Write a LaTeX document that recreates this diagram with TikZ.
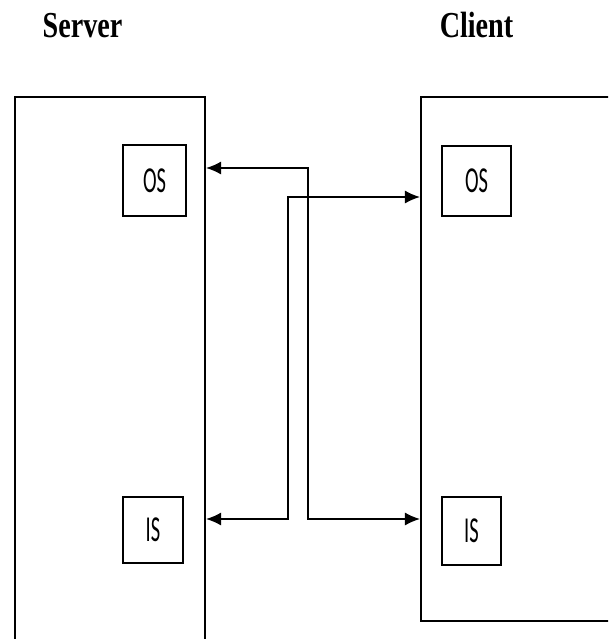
\documentclass[tikz,border=0pt]{standalone}
\usepackage{fontspec}
\usepackage{tikz}
\usetikzlibrary{arrows.meta,positioning}
\newfontfamily\titlefont{Liberation Serif}
\newfontfamily\boxfont{Carlito}
\newcommand{\squeezetxt}[2]{\scalebox{#1}[1]{#2}}

\begin{document}
\begin{tikzpicture}[x=0.025cm,y=-0.025cm,
  title/.style={anchor=base,font=\titlefont\bfseries\fontsize{26}{30}\selectfont},
  frame/.style={draw,line width=1.3pt,inner sep=0pt},
  unit/.style={draw,line width=1.3pt,inner sep=0pt,font=\boxfont\fontsize{26}{30}\selectfont},
  link/.style={line width=1.3pt,{Latex[length=3.8mm,width=3.3mm]}-{Latex[length=3.8mm,width=3.3mm]}}]
\clip (0,0) rectangle (608,639);
% titles
\node[title] (stitle) at (82.5,37) {\squeezetxt{.77}{Server}};
\node[title] (ctitle) at (476.5,37) {\squeezetxt{.77}{Client}};
% machines
\node[frame,minimum width=4.75cm,minimum height=14.05cm] (srv) at (110,378) {};
\node[frame,minimum width=4.975cm,minimum height=13.1cm] (cli) at (520.5,359) {};
\node[unit,minimum width=1.575cm,minimum height=1.775cm] (sos) at (154.5,180.5) {\squeezetxt{.56}{OS}};
\node[unit,minimum width=1.5cm,minimum height=1.65cm] (sis) at (153,530) {\squeezetxt{.56}{IS}};
\node[unit,minimum width=1.725cm,minimum height=1.75cm] (cos) at (476.5,181) {\squeezetxt{.56}{OS}};
\node[unit,minimum width=1.475cm,minimum height=1.7cm] (cis) at (471.5,531) {\squeezetxt{.56}{IS}};
% crossing links
\coordinate (a1) at (308,168);
\coordinate (a2) at (308,519);
\coordinate (b1) at (288,519);
\coordinate (b2) at (288,197);
\draw[link] (srv.east |- a1) -- (a1) -- (a2) -- (cli.west |- a2);
\draw[link] (srv.east |- b1) -- (b1) -- (b2) -- (cli.west |- b2);
\end{tikzpicture}
\end{document}
